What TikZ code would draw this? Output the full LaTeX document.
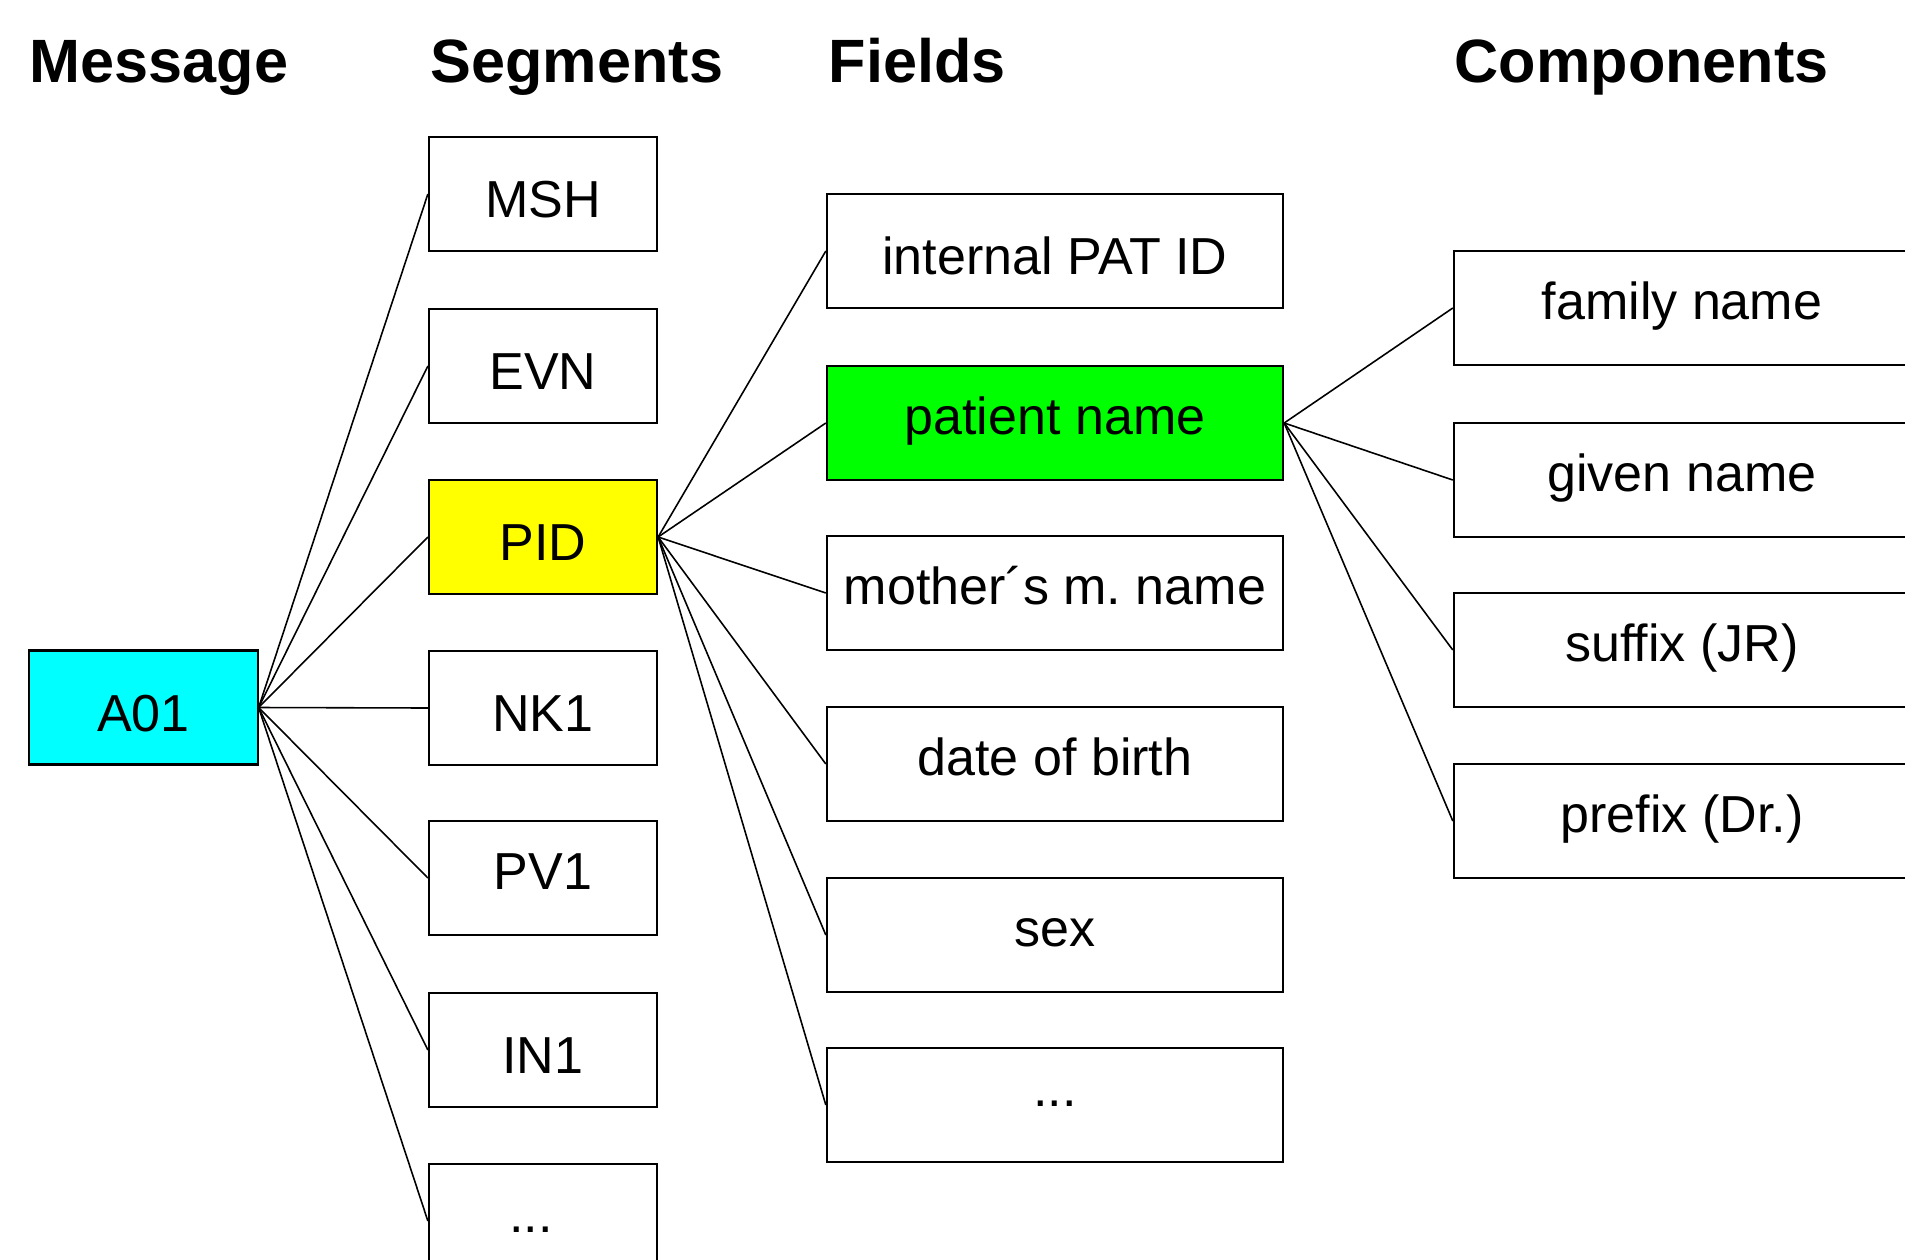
\documentclass[tikz,border=0pt]{standalone}
\usepackage{fontspec}
\setmainfont{Liberation Sans}

\begin{document}
\begin{tikzpicture}[x=0.01cm,y=-0.01cm,
    box/.style={draw=black,line width=0.6pt,inner sep=0pt,minimum height=1.14cm,
        text height=0.4cm,text depth=0.18cm,font=\fontsize{14.8}{17}\selectfont},
    lowtext/.style={text height=0.5cm,text depth=0.03cm},
    dottext/.style={text height=0.3cm,text depth=0.28cm},
    segbox/.style={box,minimum width=2.28cm},
    fieldbox/.style={box,minimum width=4.56cm},
    header/.style={anchor=base west,inner sep=0pt,font=\fontsize{17.4}{20}\selectfont\bfseries},
    link/.style={line width=0.45pt}]

    % Colors
    \definecolor{msgfill}{RGB}{0,255,255} % cyan
    \definecolor{pidfill}{RGB}{255,255,0} % yellow
    \definecolor{namefill}{RGB}{0,255,0} % green

    % Frame (boxes on the right and bottom run off the page)
    \clip (0,0) rectangle (1905,1260);

    % Column headers
    \node[header] (hmsg) at (29,82) {Message};
    \node[header] (hseg) at (430,82) {Segments};
    \node[header] (hfield) at (828,82) {Fields};
    \node[header] (hcomp) at (1454,82) {Components};

    % Message
    \node[segbox,lowtext,fill=msgfill] (a01) at (143.5,707.5) {A01};

    % Segments
    \node[segbox,lowtext] (msh) at (543,194) {MSH};
    \node[segbox,lowtext] (evn) at (543,366) {EVN};
    \node[segbox,lowtext,fill=pidfill] (pid) at (543,537) {PID};
    \node[segbox,lowtext] (nk1) at (543,708) {NK1};
    \node[segbox] (pv1) at (543,878) {PV1};
    \node[segbox,lowtext] (in1) at (543,1050) {IN1};
    \node[segbox] (segmore) at (543,1221) {...\kern0.24cm};

    % Fields of PID
    \node[fieldbox,lowtext] (patid) at (1055,251) {internal PAT ID};
    \node[fieldbox,fill=namefill] (patname) at (1055,423) {patient name};
    \node[fieldbox] (mmname) at (1055,593) {mother´s m.\ name};
    \node[fieldbox] (dob) at (1055,764) {date of birth};
    \node[fieldbox] (sex) at (1055,935) {sex};
    \node[fieldbox,dottext] (fieldmore) at (1055,1105) {...};

    % Components of patient name
    \node[fieldbox] (family) at (1682,308) {family name};
    \node[fieldbox] (given) at (1682,480) {given name};
    \node[fieldbox] (suffix) at (1682,650) {suffix (JR)};
    \node[fieldbox] (prefix) at (1682,821) {prefix (Dr.)};

    % Links
    \foreach \s in {msh,evn,pid,nk1,pv1,in1,segmore} {
        \draw[link] (a01.east) -- (\s.west);
    }
    \foreach \f in {patid,patname,mmname,dob,sex,fieldmore} {
        \draw[link] (pid.east) -- (\f.west);
    }
    \foreach \c in {family,given,suffix,prefix} {
        \draw[link] (patname.east) -- (\c.west);
    }

\end{tikzpicture}
\end{document}
